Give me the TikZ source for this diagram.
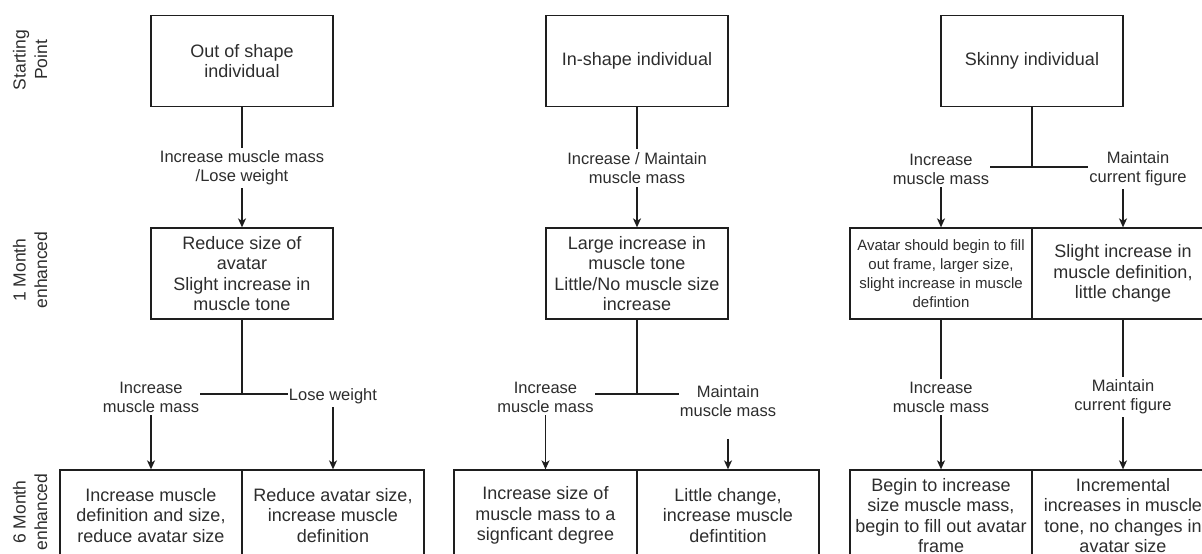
\documentclass[tikz,border=0pt]{standalone}
\usepackage{fontspec}
\setmainfont{Liberation Sans}
\usetikzlibrary{arrows.meta}
\definecolor{txt}{RGB}{45,45,45}
\definecolor{ln}{RGB}{30,30,30}
\begin{document}
\begin{tikzpicture}[x=1pt,y=-1pt,
  box/.style={draw=ln, line width=1.3pt, minimum width=182pt, minimum height=91pt,
    align=center, text=txt, font=\fontsize{18}{20.5}\selectfont, inner sep=2pt},
  smalltext/.style={font=\fontsize{15}{19.2}\selectfont},
  lbl/.style={fill=white, align=center, text=txt, font=\fontsize{16.5}{19}\selectfont,
    inner xsep=1pt, inner ysep=3pt},
  rowlbl/.style={rotate=90, align=center, text=txt, font=\fontsize{17.5}{21.5}\selectfont},
  conn/.style={draw=ln, line width=1.3pt},
  arr/.style={conn, -{Stealth[length=9pt,width=8pt,inset=2.5pt]}}]
\path[use as bounding box] (0,0) rectangle (1202,554);
\clip (0,0) rectangle (1202,554);

% row labels
\node[rowlbl] (r1) at (30,60) {Starting\\Point};
\node[rowlbl] (r2) at (30,270) {1 Month\\enhanced};
\node[rowlbl] (r3) at (30,512) {6 Month\\enhanced};

% boxes
\node[box] (T1) at (242,61) {Out of shape\\individual};
\node[box] (T2) at (637,61) {In-shape individual};
\node[box] (T3) at (1032,61) {Skinny individual};
\node[box] (M1) at (242,273.5) {Reduce size of\\avatar\\Slight increase in\\muscle tone};
\node[box] (M2) at (637,273.5) {Large increase in\\muscle tone\\Little/No muscle size\\increase};
\node[box, smalltext] (M3L) at (941,273.5) {Avatar should begin to fill\\out frame, larger size,\\slight increase in muscle\\defintion};
\node[box] (M3R) at (1123,273.5) {Slight increase in\\muscle definition,\\little change};
\node[box] (B1L) at (151,515.5) {Increase muscle\\definition and size,\\reduce avatar size};
\node[box] (B1R) at (333,515.5) {Reduce avatar size,\\increase muscle\\definition};
\node[box, minimum width=183pt] (B2L) at (545.5,515.5) {Increase size of\\muscle mass to a\\signficant degree};
\node[box] (B2R) at (728,515.5) {Little change,\\increase muscle\\defintition};
\node[box] (B3L) at (941,515.5) {Begin to increase\\size muscle mass,\\begin to fill out avatar\\frame};
\node[box] (B3R) at (1123,515.5) {Incremental\\increases in muscle\\tone, no changes in\\avatar size};

% label that sits off the connector
\node[lbl] (l2b) at (728,401) {Maintain\\muscle mass};

% connectors
\draw[arr] (T1) -- (M1);
\draw[arr] (T2) -- (M2);
\coordinate (j3) at (1032,167);
\draw[conn] (T3) -- (j3);
\draw[arr] (j3) -| (M3L.north);
\draw[arr] (j3) -| (M3R.north);
\coordinate (j1) at (242,394);
\draw[conn] (M1) -- (j1);
\draw[arr] (j1) -| (B1L.north);
\draw[arr] (j1) -| (B1R.north);
\coordinate (j2) at (637,394);
\draw[conn] (M2) -- (j2);
\draw[arr] (j2) -| (B2L.north);
\draw[conn] (j2) -- (j2 -| l2b.west);
\draw[arr, shorten <=19pt] (l2b.south) -- (B2R.north);
\draw[arr] (M3L) -- (B3L);
\draw[arr] (M3R) -- (B3R);

% connector labels
\node[lbl] (l1) at (242,168) {Increase muscle mass\\/Lose weight};
\node[lbl] (l2) at (637,168) {Increase / Maintain\\muscle mass};
\node[lbl] (l3a) at (941,169) {Increase\\muscle mass};
\node[lbl] (l3b) at (1138,169) {Maintain\\current figure};
\node[lbl] (l1a) at (151,397) {Increase\\muscle mass};
\node[lbl] (l1b) at (333,396) {Lose weight};
\node[lbl] (l2a) at (545.5,397) {Increase\\muscle mass};
\node[lbl] (l3c) at (941,397) {Increase\\muscle mass};
\node[lbl] (l3d) at (1123,397) {Maintain\\current figure};
\end{tikzpicture}
\end{document}
